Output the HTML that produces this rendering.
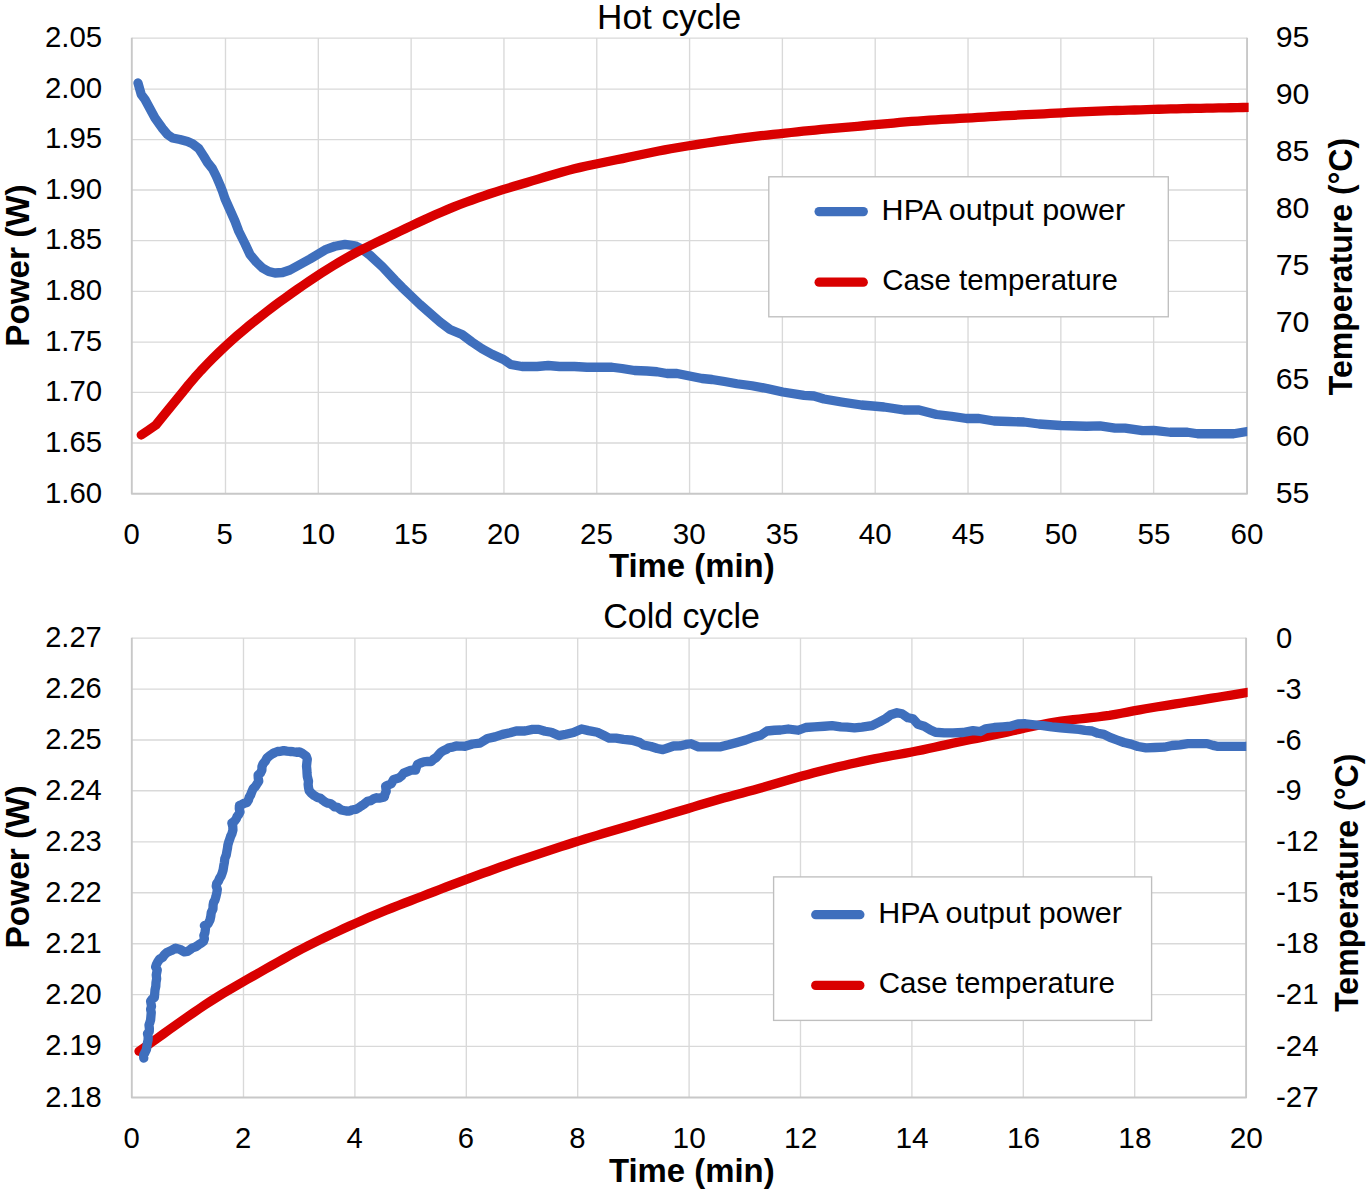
<!DOCTYPE html>
<html lang="en">
<head>
<meta charset="utf-8">
<title>HPA output power and case temperature - hot and cold cycle</title>
<style>
html,body{margin:0;padding:0;background:#fff;}
body{width:1368px;height:1192px;overflow:hidden;}
svg{display:block;}
svg text{font-family:"Liberation Sans", sans-serif;fill:#000;}
</style>
</head>
<body>
<svg width="1368" height="1192" viewBox="0 0 1368 1192">
<rect width="1368" height="1192" fill="#fff"/>
<g id="hot">
<path d="M225.5 38.1V493.8M318.31 38.1V493.8M411.13 38.1V493.8M503.94 38.1V493.8M596.76 38.1V493.8M689.58 38.1V493.8M782.39 38.1V493.8M875.2 38.1V493.8M968.02 38.1V493.8M1060.84 38.1V493.8M1153.65 38.1V493.8M131.8 38.1H1247.05M131.8 89.1H1247.05M131.8 139.6H1247.05M131.8 189.95H1247.05M131.8 240.55H1247.05M131.8 291.4H1247.05M131.8 342.1H1247.05M131.8 392.4H1247.05M131.8 442.95H1247.05" fill="none" stroke="#d9d9d9" stroke-width="1.35"/>
<path d="M131.8 37.8V493.8H1247.05V37.8" fill="none" stroke="#c8c8c8" stroke-width="1.9" stroke-linejoin="round"/>
<clipPath id="c1"><rect x="111.8" y="18.1" width="1135.45" height="495.7"/></clipPath>
<clipPath id="c1r"><rect x="111.8" y="18.1" width="1136.85" height="495.7"/></clipPath>
<polyline clip-path="url(#c1)" points="138,83 141.25,94.5 145,99.5 150,108.75 155,118 162.5,128.5 167.5,134.5 172.5,138 180,139.5 187.5,141.5 192.5,143.75 198.75,148.5 203.75,156.25 207.5,162.5 212.5,168.75 216.25,176.25 220,185 222.5,191.25 225,198.75 230,210 235,221.25 238.75,231.25 245,243.75 250,254.5 256.25,262 262.5,268 268.75,271.5 275,273 282.5,272.5 290,270 300,264.5 310,259 317.5,254.5 326.25,249.3 335,246.25 345,244.4 355,245.75 362,249.2 370,255.25 382.5,266.9 395,280.25 402,287.3 410,295 420,304.5 430,313.25 440,322 450,329.5 462,334.5 472,342 482,348.75 492,354.25 503.5,359.5 510.75,364.5 522,366.5 537,366.5 548.25,365.5 559.5,366.5 574.5,366.5 587,367.25 612,367.25 622,368.5 634.5,370.5 647,371 657,371.75 667,373.5 677,373.5 689.5,376 702,378.5 712,379.5 724.5,381.5 737,383.75 752,385.75 767,388.5 782.75,392 804,395.3 814,396 824,399 841.5,402 861.5,405 884,407 904,410 919,410 936.5,414.5 951.5,416.25 966.5,418.5 979,418.5 994,421 1009,421.5 1024,422 1039,424 1060.75,425.5 1086.5,426.25 1100,425.8 1115,428.1 1125,428.1 1142.5,430.6 1153.75,430.4 1170,432.25 1187.5,432.25 1197.5,433.75 1233.75,433.75 1249,431.2" fill="none" stroke="#3f6fbd" stroke-width="9.3" stroke-linecap="round" stroke-linejoin="round"/>
<polyline clip-path="url(#c1r)" points="141.25,435 148,430.5 155.9,425 166,412.5 182.75,392 188.77,384.53 194.8,377.47 200.82,370.73 206.85,364.34 212.87,358.23 218.89,352.34 224.92,346.67 230.94,341.16 236.97,335.83 242.99,330.67 249.01,325.67 255.04,320.79 261.06,316.03 267.09,311.36 273.11,306.79 279.13,302.32 285.16,297.93 291.18,293.63 297.21,289.39 303.23,285.22 309.25,281.13 315.28,277.1 321.3,273.16 327.33,269.32 333.35,265.58 339.37,261.96 345.4,258.49 351.42,255.15 357.45,251.93 363.47,248.84 369.49,245.84 375.52,242.87 381.54,239.98 387.57,237.1 393.59,234.21 399.61,231.34 405.64,228.49 411.66,225.59 417.69,222.73 423.71,219.94 429.73,217.2 435.76,214.52 441.78,211.89 447.81,209.35 453.83,206.91 459.85,204.53 465.88,202.24 471.9,200.02 477.93,197.9 483.95,195.81 489.97,193.77 496,191.81 502.02,189.91 508.05,188.08 514.07,186.28 520.09,184.49 526.12,182.71 532.14,180.9 538.17,179.08 544.19,177.28 550.21,175.5 556.24,173.76 562.26,172.06 568.29,170.39 574.31,168.83 580.33,167.39 586.36,166.03 592.38,164.73 598.41,163.47 604.43,162.25 610.45,161.04 616.48,159.81 622.5,158.58 628.53,157.32 634.55,156.04 640.57,154.77 646.6,153.5 652.62,152.26 658.65,151.06 664.67,149.9 670.69,148.8 676.72,147.75 682.74,146.75 688.77,145.78 694.79,144.84 700.81,143.92 706.84,143 712.86,142.1 718.89,141.22 724.91,140.34 730.94,139.48 736.96,138.65 742.98,137.86 749.01,137.11 755.03,136.38 761.06,135.7 767.08,135.05 773.1,134.41 779.13,133.79 785.15,133.15 791.18,132.5 797.2,131.86 803.22,131.22 809.25,130.61 815.27,130.01 821.3,129.43 827.32,128.86 833.34,128.32 839.37,127.8 845.39,127.3 851.42,126.79 857.44,126.27 863.46,125.75 869.49,125.2 875.51,124.65 881.54,124.1 887.56,123.56 893.58,123.01 899.61,122.49 905.63,121.97 911.66,121.48 917.68,121.02 923.7,120.59 929.73,120.18 935.75,119.81 941.78,119.48 947.8,119.14 953.82,118.81 959.85,118.48 965.87,118.15 971.9,117.81 977.92,117.42 983.94,117.04 989.97,116.67 995.99,116.3 1002.02,115.95 1008.04,115.62 1014.06,115.29 1020.09,114.98 1026.11,114.68 1032.14,114.38 1038.16,114.08 1044.18,113.77 1050.21,113.46 1056.23,113.14 1062.26,112.79 1068.28,112.45 1074.3,112.13 1080.33,111.83 1086.35,111.54 1092.38,111.31 1098.4,111.1 1104.42,110.9 1110.45,110.71 1116.47,110.52 1122.5,110.34 1128.52,110.16 1134.54,109.98 1140.57,109.8 1146.59,109.61 1152.62,109.43 1158.64,109.25 1164.66,109.09 1170.69,108.93 1176.71,108.78 1182.74,108.64 1188.76,108.52 1194.78,108.4 1200.81,108.28 1206.83,108.16 1212.86,108.05 1218.88,107.95 1224.9,107.84 1230.93,107.73 1236.95,107.62 1242.98,107.51 1249,107.4" fill="none" stroke="#d90000" stroke-width="9.3" stroke-linecap="round" stroke-linejoin="round"/>
<rect x="768.8" y="176.8" width="399.5" height="140" fill="#fff" stroke="#bfbfbf" stroke-width="1.35"/>
<path d="M819.15 211.6H863.25" stroke="#3f6fbd" stroke-width="9.3" stroke-linecap="round"/>
<path d="M819.15 282.2H863.25" stroke="#d90000" stroke-width="9.3" stroke-linecap="round"/>
</g>
<g id="cold">
<path d="M243.5 638.1V1097.55M354.9 638.1V1097.55M466.3 638.1V1097.55M577.7 638.1V1097.55M689.1 638.1V1097.55M800.5 638.1V1097.55M911.9 638.1V1097.55M1023.3 638.1V1097.55M1134.7 638.1V1097.55M131.8 638.1H1246.1M131.8 689.1H1246.1M131.8 740H1246.1M131.8 790.7H1246.1M131.8 841.85H1246.1M131.8 892.7H1246.1M131.8 943.7H1246.1M131.8 994.65H1246.1M131.8 1046.4H1246.1" fill="none" stroke="#d9d9d9" stroke-width="1.35"/>
<path d="M131.8 637.8V1097.55H1246.1V637.8" fill="none" stroke="#c8c8c8" stroke-width="1.9" stroke-linejoin="round"/>
<clipPath id="c2"><rect x="111.8" y="618.1" width="1134.5" height="499.45"/></clipPath>
<clipPath id="c2r"><rect x="111.8" y="618.1" width="1135.9" height="499.45"/></clipPath>
<polyline clip-path="url(#c2r)" points="139,1051.25 145.03,1047.05 151.05,1042.76 157.08,1038.46 163.11,1034.15 169.14,1029.84 175.16,1025.54 181.19,1021.25 187.22,1017.02 193.24,1012.83 199.27,1008.72 205.3,1004.69 211.33,1000.77 217.35,996.96 223.38,993.26 229.41,989.66 235.43,986.14 241.46,982.69 247.49,979.27 253.52,975.87 259.54,972.48 265.57,969.07 271.6,965.64 277.62,962.22 283.65,958.83 289.68,955.48 295.71,952.2 301.73,948.99 307.76,945.86 313.79,942.8 319.82,939.85 325.84,936.97 331.87,934.14 337.9,931.35 343.92,928.58 349.95,925.84 355.98,923.12 362.01,920.42 368.03,917.79 374.06,915.22 380.09,912.72 386.11,910.3 392.14,907.9 398.17,905.53 404.2,903.19 410.22,900.85 416.25,898.53 422.28,896.23 428.3,893.89 434.33,891.56 440.36,889.23 446.39,886.92 452.41,884.63 458.44,882.36 464.47,880.11 470.49,877.88 476.52,875.67 482.55,873.47 488.58,871.28 494.6,869.11 500.63,866.95 506.66,864.81 512.68,862.71 518.71,860.64 524.74,858.6 530.77,856.58 536.79,854.58 542.82,852.58 548.85,850.59 554.88,848.62 560.9,846.66 566.93,844.71 572.96,842.79 578.98,840.88 585.01,839 591.04,837.17 597.07,835.36 603.09,833.57 609.12,831.8 615.15,830.03 621.17,828.25 627.2,826.47 633.23,824.69 639.26,822.91 645.28,821.12 651.31,819.36 657.34,817.6 663.36,815.84 669.39,814.08 675.42,812.28 681.45,810.48 687.47,808.68 693.5,806.87 699.53,805.06 705.55,803.26 711.58,801.48 717.61,799.7 723.64,798.04 729.66,796.43 735.69,794.81 741.72,793.18 747.74,791.56 753.77,789.94 759.8,788.28 765.83,786.57 771.85,784.81 777.88,783.01 783.91,781.23 789.93,779.49 795.96,777.77 801.99,776.09 808.02,774.43 814.04,772.83 820.07,771.28 826.1,769.76 832.12,768.29 838.15,766.85 844.18,765.44 850.21,764.06 856.23,762.71 862.26,761.41 868.29,760.16 874.32,758.93 880.34,757.76 886.37,756.65 892.4,755.55 898.42,754.46 904.45,753.36 910.48,752.21 916.51,751.03 922.53,749.82 928.56,748.53 934.59,747.22 940.61,745.91 946.64,744.59 952.67,743.27 958.7,741.98 964.72,740.76 970.75,739.54 976.78,738.33 982.8,737.13 988.83,735.93 994.86,734.72 1000.89,733.43 1006.91,732.12 1012.94,730.77 1018.97,729.4 1024.99,728.06 1031.02,726.73 1037.05,725.43 1043.08,724.22 1049.1,723.09 1055.13,722.04 1061.16,721.12 1067.18,720.31 1073.21,719.64 1079.24,719 1085.27,718.36 1091.29,717.74 1097.32,716.99 1103.35,716.17 1109.38,715.31 1115.4,714.31 1121.43,713.21 1127.46,712.09 1133.48,710.94 1139.51,709.83 1145.54,708.75 1151.57,707.73 1157.59,706.77 1163.62,705.81 1169.65,704.87 1175.67,703.92 1181.7,702.98 1187.73,702.02 1193.76,701.06 1199.78,700.1 1205.81,699.14 1211.84,698.18 1217.86,697.23 1223.89,696.27 1229.92,695.31 1235.95,694.35 1241.97,693.38 1248,692.4" fill="none" stroke="#d90000" stroke-width="9.3" stroke-linecap="round" stroke-linejoin="round"/>
<polyline clip-path="url(#c2)" points="143.75,1058.1 143.63,1055.13 145,1052.5 146.43,1049.52 146.9,1046.25 147.39,1043.1 148.1,1040 148.2,1036.84 147.5,1033.75 149.25,1031.56 149.4,1028.75 149,1025 149.87,1022.52 150.6,1020 150.93,1016.25 151.25,1012.5 150.61,1009.34 151.5,1006.25 150.6,1001.25 152.21,999.08 154.4,997.5 154.7,993.75 155,990 155.82,986.29 156,982.5 156.67,978.77 156.25,975 157.25,970 155.6,966.9 156.48,964.32 157.75,961.9 159.59,959.13 162.5,957.5 164.41,954.75 166.9,952.5 171.25,950.6 175.6,948.1 180,949.4 184.4,951.9 187.46,951.51 190,949.75 192.57,947.87 195.6,946.9 198.38,944.93 201.25,943.1 203.45,941.38 204.4,938.75 203.85,935.54 205,932.5 205.6,927.5 204.4,925.6 208.1,923.75 210,920 210.8,916.28 211.25,912.5 212.96,908.94 213.1,905 213.6,902.33 215,900 216.03,896.27 216.9,892.5 217.31,889.3 216.25,886.25 216.69,883.49 218.39,881.27 219.4,878.75 221.05,876.01 222.15,873.04 223.1,870 223.69,866.24 224.4,862.5 224.81,858.62 226.25,855 226.86,851.55 227.5,848.1 227.9,844.95 228.75,841.9 229.76,839.17 230.62,836.38 231.9,833.75 232.93,830.07 232.75,826.25 231.9,823.1 234.42,821.27 236.25,818.75 237.21,816.31 238.86,814.25 240,811.9 239.3,808.79 239.4,805.6 241.87,804.49 244.3,803.29 246.9,802.5 248.39,800.13 249.16,797.4 250.6,795 251.78,791.85 253.1,788.75 255.61,786.17 257.5,783.1 258.75,781.25 258.27,778.14 258.1,775 260.58,772.94 261.9,770 261.94,766.77 263.1,763.75 265.36,761.17 266.9,758.1 269.61,755.81 272.5,753.75 274.95,752.5 277.5,751.5 280.66,751.29 283.75,750.6 286.87,751.09 290,751.5 293.14,751.72 296.25,752.25 299.55,751.99 302.5,753.5 306.25,756.25 307.3,759.3 306.9,762.5 306.52,766.25 306.9,770 307.03,773.13 307.25,776.25 308.5,781.25 308.15,784.38 308.5,787.5 309.14,790.66 311.25,793.1 314.19,795.57 317.5,797.5 320.41,798.27 322.67,800.14 325,801.9 327.44,803.09 330.18,803.53 332.5,805 334.66,806.89 337.5,807.25 341.25,810 346.25,811 349.53,811.16 352.5,809.75 355.82,809.35 358.75,807.75 361.22,806.03 363.75,804.4 367.5,801.25 370.85,800.57 373.75,798.75 376.81,797.76 380,798.1 384.4,796.9 385,793.97 386.25,791.25 385.6,786.25 388.4,784.94 391.25,783.75 393.75,779.4 398.75,778.1 401.56,775.91 403.75,773.1 406.87,771.84 410,770.6 412.76,769.91 415.6,770 416.39,767.15 417.5,764.4 420.55,762.97 423.75,761.9 427.49,761.48 431.25,761.5 433.52,759.22 436.25,757.5 438.68,754.64 441.25,751.9 443.72,750.47 446.39,749.39 448.75,747.75 452.57,747.19 456.25,746 459.17,746.11 462.08,746.12 465,746.25 472.5,744 480,743.1 487.5,738.5 495,736.9 502.5,734.4 510,732.75 516.25,731 525,731 532.5,729.4 538.75,729.4 545,731.25 551.25,732.25 558.75,735.6 566,734.2 573.5,732.5 581.6,729 588.5,730.6 597.25,732.25 603.5,735.25 609.1,738.1 616,738.1 623.5,739.4 632.25,740.25 639.75,742.5 643.5,745 651,746.5 657.25,748.5 662.9,749.6 668.5,747.75 673.5,746 679.75,745.9 686,744.4 691,743.75 698.5,746.9 707.25,746.9 719.75,746.9 728.5,744.75 737,742.4 745.75,740 753.25,737.25 760.75,735.25 767,731 774.5,730.25 780.75,730 788.25,729 798.25,730.25 805.75,727.5 814.5,726.9 824.5,726.25 832,725.6 840.75,726.9 847,727.1 854.5,727.9 862,727.1 872,725.6 879.5,721.9 885.75,718.5 890.75,714.75 897,712.75 902,713.75 908,717.8 913,718.75 918,724.4 924.25,726.25 930.5,730 935.5,732.25 944.25,732.9 953,732.9 963,732.5 973,730.6 980.5,731.5 985.5,728.75 994.25,727.5 1003,726.9 1010.5,726.25 1018,724 1025.5,723.75 1034.25,724.75 1043,725.6 1051.75,726.9 1060.5,727.75 1069.25,728.5 1079,729.4 1085,730.4 1092,731 1098,733.3 1104,734.4 1110,737.4 1117,740 1124,742.5 1131,744.1 1138,746.5 1146,747.8 1155,747.5 1164,747.2 1172,745.5 1180,744.8 1188,743.6 1198,743.6 1207,743.6 1213,745.4 1217,746.3 1246.3,746.3" fill="none" stroke="#3f6fbd" stroke-width="9.3" stroke-linecap="round" stroke-linejoin="round"/>
<rect x="773.6" y="876.9" width="378" height="143.5" fill="#fff" stroke="#bfbfbf" stroke-width="1.35"/>
<path d="M815.75 914.7H859.85" stroke="#3f6fbd" stroke-width="9.3" stroke-linecap="round"/>
<path d="M815.75 985.4H859.85" stroke="#d90000" stroke-width="9.3" stroke-linecap="round"/>
</g>
<g id="labels">
<text id="t_title" x="669.22" y="28.6" font-size="34.9" text-anchor="middle" textLength="144.26" lengthAdjust="spacingAndGlyphs">Hot cycle</text>
<text id="t_ly0" x="102.18" y="46.8" font-size="28.9" text-anchor="end" textLength="57.23" lengthAdjust="spacingAndGlyphs">2.05</text>
<text id="t_ly1" x="102.18" y="97.8" font-size="28.9" text-anchor="end" textLength="57.23" lengthAdjust="spacingAndGlyphs">2.00</text>
<text id="t_ly2" x="102.18" y="148.3" font-size="28.9" text-anchor="end" textLength="57.23" lengthAdjust="spacingAndGlyphs">1.95</text>
<text id="t_ly3" x="102.18" y="198.65" font-size="28.9" text-anchor="end" textLength="57.23" lengthAdjust="spacingAndGlyphs">1.90</text>
<text id="t_ly4" x="102.18" y="249.25" font-size="28.9" text-anchor="end" textLength="57.23" lengthAdjust="spacingAndGlyphs">1.85</text>
<text id="t_ly5" x="102.18" y="300.1" font-size="28.9" text-anchor="end" textLength="57.23" lengthAdjust="spacingAndGlyphs">1.80</text>
<text id="t_ly6" x="102.18" y="350.8" font-size="28.9" text-anchor="end" textLength="57.23" lengthAdjust="spacingAndGlyphs">1.75</text>
<text id="t_ly7" x="102.18" y="401.1" font-size="28.9" text-anchor="end" textLength="57.23" lengthAdjust="spacingAndGlyphs">1.70</text>
<text id="t_ly8" x="102.18" y="451.65" font-size="28.9" text-anchor="end" textLength="57.23" lengthAdjust="spacingAndGlyphs">1.65</text>
<text id="t_ly9" x="102.18" y="502.5" font-size="28.9" text-anchor="end" textLength="57.23" lengthAdjust="spacingAndGlyphs">1.60</text>
<text id="t_ry0" x="1275.73" y="47.2" font-size="28.9" textLength="33.67" lengthAdjust="spacingAndGlyphs">95</text>
<text id="t_ry1" x="1275.73" y="104.16" font-size="28.9" textLength="33.67" lengthAdjust="spacingAndGlyphs">90</text>
<text id="t_ry2" x="1275.73" y="161.12" font-size="28.9" textLength="33.67" lengthAdjust="spacingAndGlyphs">85</text>
<text id="t_ry3" x="1275.73" y="218.09" font-size="28.9" textLength="33.67" lengthAdjust="spacingAndGlyphs">80</text>
<text id="t_ry4" x="1275.73" y="275.05" font-size="28.9" textLength="33.67" lengthAdjust="spacingAndGlyphs">75</text>
<text id="t_ry5" x="1275.73" y="332.01" font-size="28.9" textLength="33.67" lengthAdjust="spacingAndGlyphs">70</text>
<text id="t_ry6" x="1275.73" y="388.98" font-size="28.9" textLength="33.67" lengthAdjust="spacingAndGlyphs">65</text>
<text id="t_ry7" x="1275.73" y="445.94" font-size="28.9" textLength="33.67" lengthAdjust="spacingAndGlyphs">60</text>
<text id="t_ry8" x="1275.73" y="502.9" font-size="28.9" textLength="33.67" lengthAdjust="spacingAndGlyphs">55</text>
<text id="t_x0" x="131.7" y="544" font-size="28.9" text-anchor="middle" textLength="16.26" lengthAdjust="spacingAndGlyphs">0</text>
<text id="t_x1" x="224.64" y="544" font-size="28.9" text-anchor="middle" textLength="16.26" lengthAdjust="spacingAndGlyphs">5</text>
<text id="t_x2" x="317.91" y="544" font-size="28.9" text-anchor="middle" textLength="34.36" lengthAdjust="spacingAndGlyphs">10</text>
<text id="t_x3" x="410.84" y="544" font-size="28.9" text-anchor="middle" textLength="34.36" lengthAdjust="spacingAndGlyphs">15</text>
<text id="t_x4" x="503.45" y="544" font-size="28.9" text-anchor="middle" textLength="32.86" lengthAdjust="spacingAndGlyphs">20</text>
<text id="t_x5" x="596.39" y="544" font-size="28.9" text-anchor="middle" textLength="32.86" lengthAdjust="spacingAndGlyphs">25</text>
<text id="t_x6" x="689.32" y="544" font-size="28.9" text-anchor="middle" textLength="32.86" lengthAdjust="spacingAndGlyphs">30</text>
<text id="t_x7" x="782.26" y="544" font-size="28.9" text-anchor="middle" textLength="32.86" lengthAdjust="spacingAndGlyphs">35</text>
<text id="t_x8" x="875.2" y="544" font-size="28.9" text-anchor="middle" textLength="32.86" lengthAdjust="spacingAndGlyphs">40</text>
<text id="t_x9" x="968.14" y="544" font-size="28.9" text-anchor="middle" textLength="32.86" lengthAdjust="spacingAndGlyphs">45</text>
<text id="t_x10" x="1061.08" y="544" font-size="28.9" text-anchor="middle" textLength="32.86" lengthAdjust="spacingAndGlyphs">50</text>
<text id="t_x11" x="1154.01" y="544" font-size="28.9" text-anchor="middle" textLength="32.86" lengthAdjust="spacingAndGlyphs">55</text>
<text id="t_x12" x="1246.95" y="544" font-size="28.9" text-anchor="middle" textLength="32.86" lengthAdjust="spacingAndGlyphs">60</text>
<text id="t_xt" x="691.8" y="577.4" font-size="33" text-anchor="middle" font-weight="700" textLength="165.73" lengthAdjust="spacingAndGlyphs">Time (min)</text>
<text id="t_lt" x="28.7" y="265.58" font-size="33" text-anchor="middle" font-weight="700" textLength="162.39" lengthAdjust="spacingAndGlyphs" transform="rotate(-90 28.7 265.58)">Power (W)</text>
<text id="t_rt" x="1352" y="266.57" font-size="33" text-anchor="middle" font-weight="700" textLength="257.21" lengthAdjust="spacingAndGlyphs" transform="rotate(-90 1352 266.57)">Temperature (°C)</text>
<text id="t_l1" x="881.61" y="220.1" font-size="29" textLength="243.61" lengthAdjust="spacingAndGlyphs">HPA output power</text>
<text id="t_l2" x="882.18" y="290.3" font-size="29" textLength="235.59" lengthAdjust="spacingAndGlyphs">Case temperature</text>
<text id="b_title" x="681.66" y="628.3" font-size="34.9" text-anchor="middle" textLength="156.66" lengthAdjust="spacingAndGlyphs">Cold cycle</text>
<text id="b_ly0" x="101.82" y="647.1" font-size="28.9" text-anchor="end" textLength="56.64" lengthAdjust="spacingAndGlyphs">2.27</text>
<text id="b_ly1" x="101.82" y="698.1" font-size="28.9" text-anchor="end" textLength="56.64" lengthAdjust="spacingAndGlyphs">2.26</text>
<text id="b_ly2" x="101.82" y="749" font-size="28.9" text-anchor="end" textLength="56.64" lengthAdjust="spacingAndGlyphs">2.25</text>
<text id="b_ly3" x="101.82" y="799.7" font-size="28.9" text-anchor="end" textLength="56.64" lengthAdjust="spacingAndGlyphs">2.24</text>
<text id="b_ly4" x="101.82" y="850.85" font-size="28.9" text-anchor="end" textLength="56.64" lengthAdjust="spacingAndGlyphs">2.23</text>
<text id="b_ly5" x="101.82" y="901.7" font-size="28.9" text-anchor="end" textLength="56.64" lengthAdjust="spacingAndGlyphs">2.22</text>
<text id="b_ly6" x="101.82" y="952.7" font-size="28.9" text-anchor="end" textLength="56.64" lengthAdjust="spacingAndGlyphs">2.21</text>
<text id="b_ly7" x="101.82" y="1003.65" font-size="28.9" text-anchor="end" textLength="56.64" lengthAdjust="spacingAndGlyphs">2.20</text>
<text id="b_ly8" x="101.82" y="1055.4" font-size="28.9" text-anchor="end" textLength="56.64" lengthAdjust="spacingAndGlyphs">2.19</text>
<text id="b_ly9" x="101.82" y="1106.55" font-size="28.9" text-anchor="end" textLength="56.64" lengthAdjust="spacingAndGlyphs">2.18</text>
<text id="b_ry0" x="1276.09" y="647.6" font-size="28.9" textLength="16.27" lengthAdjust="spacingAndGlyphs">0</text>
<text id="b_ry1" x="1275.96" y="698.6" font-size="28.9" textLength="25.79" lengthAdjust="spacingAndGlyphs">-3</text>
<text id="b_ry2" x="1275.96" y="749.5" font-size="28.9" textLength="25.79" lengthAdjust="spacingAndGlyphs">-6</text>
<text id="b_ry3" x="1275.96" y="800.2" font-size="28.9" textLength="25.79" lengthAdjust="spacingAndGlyphs">-9</text>
<text id="b_ry4" x="1275.9" y="851.35" font-size="28.9" textLength="42.78" lengthAdjust="spacingAndGlyphs">-12</text>
<text id="b_ry5" x="1275.9" y="902.2" font-size="28.9" textLength="42.78" lengthAdjust="spacingAndGlyphs">-15</text>
<text id="b_ry6" x="1275.9" y="953.2" font-size="28.9" textLength="42.78" lengthAdjust="spacingAndGlyphs">-18</text>
<text id="b_ry7" x="1275.9" y="1004.15" font-size="28.9" textLength="42.78" lengthAdjust="spacingAndGlyphs">-21</text>
<text id="b_ry8" x="1275.9" y="1055.9" font-size="28.9" textLength="42.78" lengthAdjust="spacingAndGlyphs">-24</text>
<text id="b_ry9" x="1275.9" y="1107.05" font-size="28.9" textLength="42.78" lengthAdjust="spacingAndGlyphs">-27</text>
<text id="b_x0" x="131.7" y="1147.9" font-size="28.9" text-anchor="middle" textLength="16.26" lengthAdjust="spacingAndGlyphs">0</text>
<text id="b_x1" x="243.13" y="1147.9" font-size="28.9" text-anchor="middle" textLength="16.26" lengthAdjust="spacingAndGlyphs">2</text>
<text id="b_x2" x="354.56" y="1147.9" font-size="28.9" text-anchor="middle" textLength="16.26" lengthAdjust="spacingAndGlyphs">4</text>
<text id="b_x3" x="465.99" y="1147.9" font-size="28.9" text-anchor="middle" textLength="16.26" lengthAdjust="spacingAndGlyphs">6</text>
<text id="b_x4" x="577.42" y="1147.9" font-size="28.9" text-anchor="middle" textLength="16.26" lengthAdjust="spacingAndGlyphs">8</text>
<text id="b_x5" x="689.21" y="1147.9" font-size="28.9" text-anchor="middle" textLength="33.21" lengthAdjust="spacingAndGlyphs">10</text>
<text id="b_x6" x="800.64" y="1147.9" font-size="28.9" text-anchor="middle" textLength="33.21" lengthAdjust="spacingAndGlyphs">12</text>
<text id="b_x7" x="912.07" y="1147.9" font-size="28.9" text-anchor="middle" textLength="33.21" lengthAdjust="spacingAndGlyphs">14</text>
<text id="b_x8" x="1023.5" y="1147.9" font-size="28.9" text-anchor="middle" textLength="33.21" lengthAdjust="spacingAndGlyphs">16</text>
<text id="b_x9" x="1134.93" y="1147.9" font-size="28.9" text-anchor="middle" textLength="33.21" lengthAdjust="spacingAndGlyphs">18</text>
<text id="b_x10" x="1246.36" y="1147.9" font-size="28.9" text-anchor="middle" textLength="33.21" lengthAdjust="spacingAndGlyphs">20</text>
<text id="b_xt" x="691.8" y="1182.2" font-size="33" text-anchor="middle" font-weight="700" textLength="165.73" lengthAdjust="spacingAndGlyphs">Time (min)</text>
<text id="b_lt" x="28.9" y="866.89" font-size="33" text-anchor="middle" font-weight="700" textLength="163.15" lengthAdjust="spacingAndGlyphs" transform="rotate(-90 28.9 866.89)">Power (W)</text>
<text id="b_rt" x="1357.7" y="882.72" font-size="33" text-anchor="middle" font-weight="700" textLength="258.26" lengthAdjust="spacingAndGlyphs" transform="rotate(-90 1357.7 882.72)">Temperature (°C)</text>
<text id="b_l1" x="878.35" y="923.4" font-size="29" textLength="243.6" lengthAdjust="spacingAndGlyphs">HPA output power</text>
<text id="b_l2" x="878.79" y="992.8" font-size="29" textLength="236.07" lengthAdjust="spacingAndGlyphs">Case temperature</text>
</g>
</svg>
</body>
</html>
